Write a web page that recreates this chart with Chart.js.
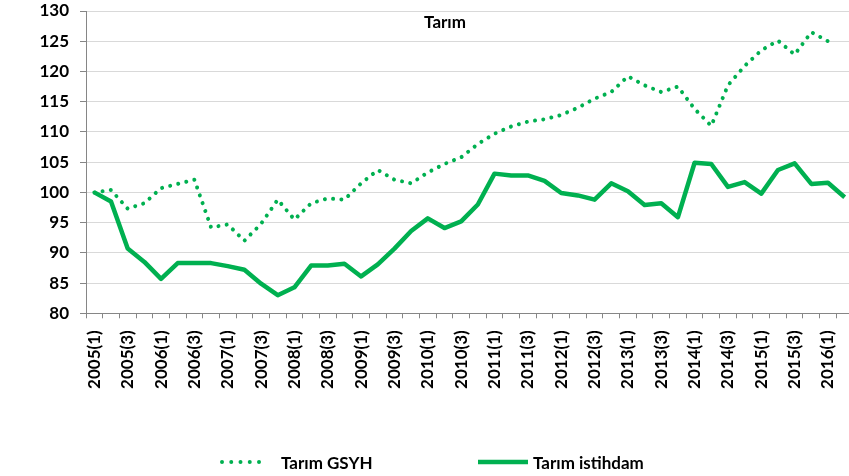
<!DOCTYPE html>
<html>
<head>
<meta charset="utf-8">
<script src="https://cdn.jsdelivr.net/npm/chart.js@4/dist/chart.umd.min.js"></script>
<style>
  html, body { margin:0; padding:0; background:#fff; }
  body { width:849px; height:476px; overflow:hidden; }
  #wrap { position:relative; width:890px; height:476px; }
  #c { position:absolute; left:0; top:0; }
  .leg { position:absolute; top:450px; height:24px; display:flex; align-items:center;
         font-family: Lato, "Open Sans", sans-serif; font-weight:700; font-size:17px; color:#000; white-space:nowrap; }
  .leg svg { display:block; margin-right:9px; }
</style>
</head>
<body>
<div id="wrap">
  <canvas id="c" width="890" height="476"></canvas>
  <div class="leg" style="left:218px;">
    <svg width="54" height="24"><line x1="4" y1="12" x2="50" y2="12" stroke="#00B050" stroke-width="4" stroke-linecap="round" stroke-dasharray="0 9.25"/></svg>
    <span>Tarım GSYH</span>
  </div>
  <div class="leg" style="left:477px;">
    <svg width="52" height="24" style="margin-right:4px"><line x1="1" y1="12" x2="51" y2="12" stroke="#00B050" stroke-width="4.5"/></svg>
    <span>Tarım istihdam</span>
  </div>
</div>
<script>
const categories = [
  "2005(1)","2005(2)","2005(3)","2005(4)",
  "2006(1)","2006(2)","2006(3)","2006(4)",
  "2007(1)","2007(2)","2007(3)","2007(4)",
  "2008(1)","2008(2)","2008(3)","2008(4)",
  "2009(1)","2009(2)","2009(3)","2009(4)",
  "2010(1)","2010(2)","2010(3)","2010(4)",
  "2011(1)","2011(2)","2011(3)","2011(4)",
  "2012(1)","2012(2)","2012(3)","2012(4)",
  "2013(1)","2013(2)","2013(3)","2013(4)",
  "2014(1)","2014(2)","2014(3)","2014(4)",
  "2015(1)","2015(2)","2015(3)","2015(4)",
  "2016(1)","2016(2)"
];
const tarimGSYH = [
  100.0, 100.4, 97.3, 98.2, 100.7, 101.4, 102.1, 94.2, 94.7, 92.0,
  94.8, 98.8, 95.5, 98.2, 99.0, 98.8, 101.5, 103.7, 102.1, 101.5,
  103.3, 104.7, 105.8, 108.0, 109.7, 110.9, 111.7, 112.1, 112.8, 114.0,
  115.5, 116.6, 119.2, 117.7, 116.6, 117.5, 113.8, 111.0, 117.7, 120.9,
  123.5, 125.1, 122.8, 126.5, 125.0, null
];
const tarimIstihdam = [
  100.0, 98.5, 90.7, 88.5, 85.7, 88.3, 88.3, 88.3, 87.8, 87.2,
  84.9, 83.0, 84.3, 87.9, 87.9, 88.2, 86.1, 88.1, 90.7, 93.6,
  95.7, 94.1, 95.2, 98.0, 103.1, 102.8, 102.8, 101.9, 99.9, 99.5,
  98.8, 101.5, 100.2, 97.9, 98.2, 95.9, 104.9, 104.7, 100.9, 101.7,
  99.8, 103.7, 104.8, 101.4, 101.6, 99.2
];
const yMin = 80, yMax = 130, yStep = 5;
const titleText = "Tarım";

const FONT = { family: 'Lato, "Open Sans", sans-serif', weight: 'bold', size: 17 };
const GREEN = '#00B050';

const titlePlugin = {
  id: 'insideTitle',
  afterDraw(chart) {
    const ctx = chart.ctx;
    ctx.save();
    ctx.font = 'bold 17px Lato, "Open Sans", sans-serif';
    ctx.fillStyle = '#000';
    ctx.textAlign = 'center';
    ctx.textBaseline = 'middle';
    ctx.fillText(titleText, chart.width / 2, 23);
    ctx.restore();
  }
};

new Chart(document.getElementById('c'), {
  type: 'line',
  data: {
    labels: categories,
    datasets: [
      {
        label: 'Tarım GSYH',
        data: tarimGSYH,
        borderColor: GREEN,
        backgroundColor: GREEN,
        borderWidth: 4,
        borderDash: [0.01, 8.3],
        borderCapStyle: 'round',
        borderJoinStyle: 'round',
        pointRadius: 0,
        tension: 0,
        fill: false,
        spanGaps: false
      },
      {
        label: 'Tarım istihdam',
        data: tarimIstihdam,
        borderColor: GREEN,
        backgroundColor: GREEN,
        borderWidth: 4.5,
        borderJoinStyle: 'round',
        pointRadius: 0,
        tension: 0,
        fill: false
      }
    ]
  },
  options: {
    responsive: false,
    animation: false,
    devicePixelRatio: 1,
    layout: { padding: { top: 11, left: 0, right: 37, bottom: 0 } },
    plugins: {
      legend: { display: false },
      title: { display: false },
      tooltip: { enabled: false }
    },
    scales: {
      x: {
        type: 'category',
        offset: true,
        afterFit(scale) { scale.height = 162.7; },
        grid: {
          offset: true,
          drawOnChartArea: false,
          drawTicks: true,
          tickLength: 5,
          color: '#868686',
          tickColor: '#868686'
        },
        border: { display: true, color: '#868686', width: 1 },
        ticks: {
          autoSkip: false,
          minRotation: 90,
          maxRotation: 90,
          padding: 12,
          color: '#000',
          font: FONT,
          callback(value, index) { return index % 2 === 0 ? categories[index] : ''; }
        }
      },
      y: {
        min: yMin,
        max: yMax,
        afterFit(scale) { scale.width = 86; scale.paddingTop = 0; scale.paddingBottom = 0; },
        grid: {
          color: '#d9d9d9',
          lineWidth: 1,
          drawTicks: true,
          tickLength: 6,
          tickColor: '#868686'
        },
        border: { display: true, color: '#868686', width: 1 },
        ticks: {
          stepSize: yStep,
          padding: 11,
          color: '#000',
          font: FONT
        }
      }
    }
  },
  plugins: [titlePlugin]
});
</script>
</body>
</html>
